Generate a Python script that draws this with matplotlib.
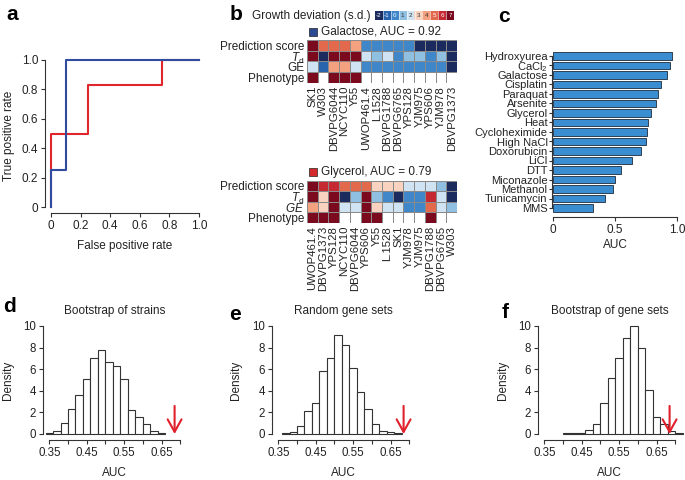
import numpy as np
import matplotlib
matplotlib.use('Agg')
import matplotlib.pyplot as plt
from matplotlib.colors import ListedColormap, BoundaryNorm
from matplotlib.patches import Rectangle

plt.rcParams['font.family'] = ['Liberation Sans', 'DejaVu Sans']
plt.rcParams['mathtext.fontset'] = 'custom'
plt.rcParams['mathtext.rm'] = 'Liberation Sans'
plt.rcParams['mathtext.it'] = 'Liberation Sans:italic'
plt.rcParams['mathtext.bf'] = 'Liberation Sans:bold'

# ---------------- data ----------------
# panel a: ROC curves
gal_fpr = [0, 0, 0.1, 0.1, 1.0]
gal_tpr = [0, 0.25, 0.25, 1.0, 1.0]
gly_fpr = [0, 0, 0.25, 0.25, 0.75, 0.75, 1.0]
gly_tpr = [0, 0.5, 0.5, 0.8333, 0.8333, 1.0, 1.0]

# panel b: heatmaps (growth deviation, s.d.)
levels = [-2, -1, 0, 1, 2, 3, 4, 5, 6, 7]
row_labels_gal = ['Prediction score', r'$T_{\mathrm{d}}$', 'GE', 'Phenotype']
row_labels_gly = ['Prediction score', r'$T_{\mathrm{d}}$', r'$GE$', 'Phenotype']

gal_strains = ['SK1', 'W303', 'DBVPG6044', 'NCYC110', 'Y55', 'UWOP461.4', 'L.1528',
               'DBVPG1788', 'DBVPG6765', 'YPS128', 'YJM975', 'YPS606', 'YJM978', 'DBVPG1373']
gal_pred = [7, 5, 5, 5, 4, 0, 0, 0, 0, 0, -2, -2, -2, -2]
gal_td = [7, -2, 7, 7, 7, 2, 1, 2, 0, 1, 1, 0, 1, -2]
gal_ge = [2, -1, 4, 4, 2, 0, 0, 0, 0, 0, 0, 0, 0, -2]
gal_pheno = [1, 0, 1, 1, 1, 0, 0, 0, 0, 0, 0, 0, 0, 0]

gly_strains = ['UWOP461.4', 'DBVPG1373', 'YPS128', 'NCYC110', 'DBVPG6044', 'YPS606', 'Y55',
               'L.1528', 'SK1', 'YJM978', 'YJM975', 'DBVPG1788', 'DBVPG6765', 'W303']
gly_pred = [7, 6, 6, 5, 5, 5, 3, 3, 3, 2, 2, 2, 1, -2]
gly_td = [7, 3, 7, -2, 1, 7, 1, 0, -2, 0, 0, 6, 2, -2]
gly_ge = [4, 3, 7, 2, 2, 7, 3, 2, 2, 0, 0, 5, 2, 1]
gly_pheno = [1, 1, 1, 0, 0, 1, 1, 0, 0, 0, 0, 1, 0, 0]

# panel c: AUC per condition
conditions = ['Hydroxyurea', 'CaCl$_2$', 'Galactose', 'Cisplatin', 'Paraquat', 'Arsenite',
              'Glycerol', 'Heat', 'Cycloheximide', 'High NaCl', 'Doxorubicin', 'LiCl',
              'DTT', 'Miconazole', 'Methanol', 'Tunicamycin', 'MMS']
auc_values = [0.96, 0.94, 0.92, 0.87, 0.85, 0.83, 0.79, 0.77, 0.76, 0.75, 0.71,
              0.64, 0.55, 0.50, 0.48, 0.42, 0.32]

# panels d-f: histograms (bin width 0.02)
d_start = 0.34
d_heights = [0.1, 0.3, 1.0, 2.3, 3.6, 5.1, 7.0, 7.8, 6.7, 6.3, 5.1, 2.2, 1.6, 0.9, 0.25, 0.1]
e_start = 0.36
e_heights = [0.1, 0.2, 0.7, 2.1, 2.9, 5.8, 7.0, 9.2, 8.2, 6.1, 3.9, 2.3, 0.95, 0.3, 0.2, 0.05]
f_start = 0.40
f_heights = [0.05, 0.05, 0.1, 0.4, 0.9, 2.9, 5.2, 7.0, 8.9, 10.0, 8.0, 4.1, 1.6, 0.9, 0.3, 0.05]
observed_auc = 0.685
bin_width = 0.02

# ---------------- style ----------------
W, H = 685, 480
PT = 72 / 100.0
TXT = '#222222'
BLUE = '#2f4c9e'
RED = '#e0262d'
BAR = '#3a8dd0'
ARROW = '#e0202a'
hm_colors = ['#1b2b5e', '#2764ad', '#3f87c8', '#8fc0e2', '#d0e3f2',
             '#f9d3c0', '#f3a17f', '#e2694b', '#c52a32', '#7c0a1f']
cmap = ListedColormap(hm_colors)
cmap.set_bad('white')
norm = BoundaryNorm(np.arange(-2.5, 8.0, 1.0), cmap.N)

fig = plt.figure(figsize=(W / 100, H / 100), dpi=100)


def axpx(x0, y0, x1, y1):
    return fig.add_axes([x0 / W, 1 - y1 / H, (x1 - x0) / W, (y1 - y0) / H])


def ftext(x, y, s, **kw):
    kw.setdefault('color', TXT)
    return fig.text(x / W, 1 - y / H, s, **kw)


def letter(x, y, s):
    ftext(x, y, s, fontsize=15, fontweight='bold', ha='center', va='center', color='black')


# ---------------- panel a ----------------
ax = axpx(51, 60, 199, 207)
ax.plot(gly_fpr, gly_tpr, color=RED, lw=1.5, clip_on=False)
ax.plot(gal_fpr, gal_tpr, color=BLUE, lw=1.5, clip_on=False)
ax.set_xlim(0, 1)
ax.set_ylim(0, 1)
for s in ['top', 'right']:
    ax.spines[s].set_visible(False)
for s in ['left', 'bottom']:
    ax.spines[s].set_position(('outward', 6 * PT))
    ax.spines[s].set_bounds(0, 1)
    ax.spines[s].set_color('#333333')
    ax.spines[s].set_linewidth(0.8)
tk = [0, 0.2, 0.4, 0.6, 0.8, 1.0]
tl = ['0', '0.2', '0.4', '0.6', '0.8', '1.0']
ax.set_xticks(tk, tl)
ax.set_yticks(tk, tl)
ax.tick_params(length=4 * PT, width=0.8, labelsize=8.5, pad=2, color='#333333', labelcolor=TXT)
ftext(125, 246, 'False positive rate', fontsize=8.5, ha='center', va='center')
ftext(9, 136, 'True positive rate', fontsize=8.5, ha='center', va='center', rotation=90)
letter(12, 15, 'a')

# ---------------- panel b ----------------
def heatmap(y0, y1, strains, pred, td, ge, pheno, row_labels):
    hx = axpx(307, y0, 457, y1)
    ph = [7 if p else np.nan for p in pheno]
    M = np.ma.masked_invalid(np.array([pred, td, ge, ph], dtype=float))
    hx.pcolormesh(np.arange(len(strains) + 1), np.arange(5), M, cmap=cmap, norm=norm,
                  edgecolors='#8a8a8a', linewidth=0.5)
    hx.set_xlim(0, len(strains))
    hx.set_ylim(4, 0)
    hx.set_yticks(np.arange(4) + 0.5, row_labels)
    hx.set_xticks(np.arange(len(strains)) + 0.5, strains, rotation=90)
    hx.tick_params(length=0, labelsize=8.5, pad=2, labelcolor=TXT)
    hx.tick_params(axis='x', labelsize=8.2, pad=2)
    for s in hx.spines.values():
        s.set_visible(False)
    return hx


heatmap(40, 83, gal_strains, gal_pred, gal_td, gal_ge, gal_pheno, row_labels_gal)
heatmap(180.5, 223, gly_strains, gly_pred, gly_td, gly_ge, gly_pheno, row_labels_gly)

# colour key
cx = axpx(375, 11, 454, 20)
cx.imshow(np.array(levels)[None, :], cmap=cmap, norm=norm, aspect='auto',
          extent=(0, len(levels), 0, 1))
for i, lv in enumerate(levels):
    col = 'white' if lv in (-2, -1, 0, 5, 6, 7) else '#333333'
    cx.text(i + 0.5, 0.5, str(lv), ha='center', va='center', fontsize=4.5, color=col)
    if i > 0:
        cx.axvline(i, color='white', lw=0.4)
cx.set_axis_off()
ftext(311, 16, 'Growth deviation (s.d.)', fontsize=8.5, ha='center', va='center')
letter(236, 15, 'b')

# legend squares
fig.add_artist(Rectangle((309 / W, 1 - 36 / H), 8 / W, 8 / H, transform=fig.transFigure,
                         facecolor='#2b4a92', edgecolor='#222222', lw=0.5))
ftext(321, 32, 'Galactose, AUC = 0.92', fontsize=8.5, ha='left', va='center')
fig.add_artist(Rectangle((309 / W, 1 - 176 / H), 8 / W, 8 / H, transform=fig.transFigure,
                         facecolor='#d42a2e', edgecolor='#222222', lw=0.5))
ftext(321, 172, 'Glycerol, AUC = 0.79', fontsize=8.5, ha='left', va='center')

# ---------------- panel c ----------------
cax = axpx(553, 51.25, 677, 212.75)
ypos = np.arange(len(conditions))[::-1]
cax.barh(ypos, auc_values, height=0.82, color=BAR, edgecolor='#1f2b3c', lw=0.6)
cax.set_ylim(-0.5, len(conditions) - 0.5)
cax.set_xlim(0, 1)
for s in ['top', 'right']:
    cax.spines[s].set_visible(False)
cax.spines['left'].set_position(('outward', 1 * PT))
cax.spines['left'].set_bounds(0, len(conditions) - 1)
cax.spines['bottom'].set_position(('outward', 4 * PT))
cax.spines['bottom'].set_bounds(0, 1)
for s in ['left', 'bottom']:
    cax.spines[s].set_color('#333333')
    cax.spines[s].set_linewidth(0.8)
cax.set_yticks(ypos, conditions)
cax.set_xticks([0, 0.5, 1.0], ['0', '0.5', '1.0'])
cax.tick_params(axis='y', length=3 * PT, width=0.8, labelsize=8, pad=1, color='#333333', labelcolor=TXT)
cax.tick_params(axis='x', length=4 * PT, width=0.8, labelsize=8.5, pad=2, color='#333333', labelcolor=TXT)
ftext(615, 245, 'AUC', fontsize=8.5, ha='center', va='center')
letter(504, 16, 'c')


# ---------------- panels d-f ----------------
def hist_panel(x035, start, heights, title, let, let_xy, dens_x):
    scale = 374.0
    x0 = x035 - (0.35 - 0.332) * scale
    x1 = x035 + (0.72 - 0.35) * scale
    hx = axpx(x0, 326, x1, 434)
    edges = start + bin_width * np.arange(len(heights))
    hx.bar(edges, heights, width=bin_width, align='edge', facecolor='white',
           edgecolor='#333333', lw=0.8, clip_on=False)
    hx.set_xlim(0.332, 0.72)
    hx.set_ylim(0, 10)
    for s in ['top', 'right']:
        hx.spines[s].set_visible(False)
    hx.spines['bottom'].set_position(('outward', 6 * PT))
    hx.spines['bottom'].set_bounds(0.35, 0.70)
    hx.spines['left'].set_bounds(0, 10)
    for s in ['left', 'bottom']:
        hx.spines[s].set_color('#333333')
        hx.spines[s].set_linewidth(0.8)
    xt = np.round(np.arange(0.35, 0.7001, 0.05), 2)
    hx.set_xticks(xt, ['%.2f' % v if i % 2 == 0 else '' for i, v in enumerate(xt)])
    hx.set_yticks([0, 2, 4, 6, 8, 10], ['0', '2', '4', '6', '8', '10'])
    hx.tick_params(length=4 * PT, width=0.8, labelsize=8.3, pad=2, color='#333333', labelcolor=TXT)
    hx.annotate('', xy=(observed_auc, 0), xytext=(observed_auc, 2.6),
                arrowprops=dict(arrowstyle='->,head_length=0.9,head_width=0.5',
                                color=ARROW, lw=1.5, shrinkA=0, shrinkB=0,
                                mutation_scale=10), annotation_clip=False)
    cx_ = x035 + (0.525 - 0.35) * scale
    ftext(cx_, 311, title, fontsize=8.5, ha='center', va='center')
    ftext(cx_, 473, 'AUC', fontsize=8.5, ha='center', va='center')
    ftext(dens_x, 380, 'Density', fontsize=8.5, ha='center', va='center', rotation=90)
    letter(let_xy[0], let_xy[1], let)


hist_panel(49.3, d_start, d_heights, 'Bootstrap of strains', 'd', (10, 306), 8)
hist_panel(278.3, e_start, e_heights, 'Random gene sets', 'e', (235, 314), 236)
hist_panel(544.3, f_start, f_heights, 'Bootstrap of gene sets', 'f', (505, 313), 503)

fig.savefig('out.png', dpi=100)
